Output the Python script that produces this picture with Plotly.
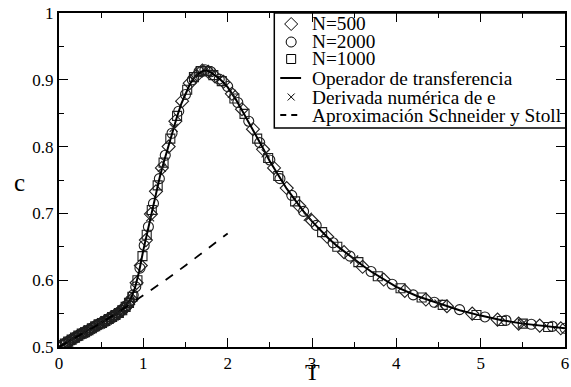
import plotly.graph_objects as go

# Transfer operator curve (T, c)
T_curve = [0.0, 0.1, 0.2, 0.3, 0.4, 0.5, 0.6, 0.7, 0.8, 0.85, 0.9, 0.95, 1.0, 1.05, 1.1, 1.15,
           1.2, 1.25, 1.3, 1.35, 1.4, 1.45, 1.5, 1.55, 1.6, 1.65, 1.7, 1.75, 1.8, 1.85, 1.9,
           1.95, 2.0, 2.1, 2.2, 2.3, 2.4, 2.5, 2.6, 2.7, 2.8, 2.9, 3.0, 3.1, 3.2, 3.3, 3.4,
           3.5, 3.6, 3.7, 3.8, 3.9, 4.0, 4.25, 4.5, 4.75, 5.0, 5.25, 5.5, 5.75, 6.0]
c_curve = [0.500, 0.508, 0.515, 0.522, 0.529, 0.536, 0.543, 0.551, 0.562, 0.572, 0.588, 0.613,
           0.645, 0.674, 0.703, 0.731, 0.757, 0.780, 0.802, 0.824, 0.845, 0.864, 0.880, 0.893,
           0.903, 0.909, 0.913, 0.914, 0.911, 0.907, 0.902, 0.896, 0.889, 0.870, 0.848, 0.825,
           0.802, 0.778, 0.757, 0.737, 0.720, 0.703, 0.688, 0.675, 0.662, 0.651, 0.641, 0.631,
           0.622, 0.613, 0.605, 0.597, 0.590, 0.576, 0.565, 0.555, 0.547, 0.540, 0.535, 0.531,
           0.528]

# Schneider & Stoll approximation
T_ss = [0.0, 0.25, 0.5, 0.75, 1.0, 1.25, 1.5, 1.75, 2.0]
c_ss = [0.500, 0.518, 0.536, 0.556, 0.577, 0.599, 0.622, 0.646, 0.670]

# N=500 (diamonds)
T_500 = [0.06, 0.10, 0.14, 0.18, 0.22, 0.26, 0.30, 0.34, 0.38, 0.42, 0.46, 0.50, 0.54, 0.58,
         0.62, 0.66, 0.70, 0.74, 0.78, 0.82, 0.86,
         0.92, 0.97, 1.03, 1.09, 1.15, 1.22, 1.30, 1.38, 1.46, 1.55, 1.63, 1.70, 1.77, 1.85,
         1.95, 2.05, 2.17, 2.30, 2.42, 2.55, 2.70, 2.85, 3.00, 3.18, 3.38, 3.60, 3.85, 4.10,
         4.35, 4.60, 4.90, 5.20, 5.45, 5.70, 5.95]
c_500 = [0.504, 0.507, 0.510, 0.513, 0.516, 0.519, 0.522, 0.524, 0.527, 0.530, 0.533, 0.536,
         0.538, 0.541, 0.544, 0.547, 0.550, 0.554, 0.558, 0.564, 0.571,
         0.596, 0.622, 0.660, 0.699, 0.733, 0.768, 0.800, 0.838, 0.868, 0.895, 0.906, 0.914,
         0.912, 0.905, 0.897, 0.879, 0.856, 0.826, 0.796, 0.768, 0.738, 0.711, 0.689, 0.665,
         0.642, 0.620, 0.601, 0.584, 0.571, 0.561, 0.550, 0.541, 0.535, 0.532, 0.528]

# N=2000 (circles)
T_2000 = [0.04, 0.08, 0.12, 0.16, 0.20, 0.24, 0.28, 0.32, 0.36, 0.40, 0.44, 0.48, 0.52, 0.56,
          0.60, 0.64, 0.68, 0.72, 0.76, 0.80, 0.84, 0.88,
          0.91, 0.96, 1.01, 1.06, 1.12, 1.19, 1.26, 1.34, 1.42, 1.50, 1.58, 1.66, 1.73, 1.80,
          1.90, 2.00, 2.12, 2.25, 2.38, 2.50, 2.62, 2.76, 2.90, 3.05, 3.25, 3.45, 3.70, 3.95,
          4.20, 4.45, 4.75, 5.05, 5.30, 5.60, 5.85, 6.00]
c_2000 = [0.503, 0.506, 0.509, 0.512, 0.515, 0.518, 0.521, 0.523, 0.526, 0.529, 0.532, 0.535,
          0.537, 0.540, 0.543, 0.546, 0.549, 0.553, 0.557, 0.562, 0.569, 0.578,
          0.590, 0.618, 0.652, 0.680, 0.715, 0.752, 0.787, 0.820, 0.853, 0.878, 0.900, 0.912,
          0.915, 0.912, 0.901, 0.890, 0.866, 0.838, 0.806, 0.780, 0.752, 0.727, 0.703, 0.682,
          0.656, 0.636, 0.613, 0.594, 0.578, 0.567, 0.556, 0.545, 0.540, 0.534, 0.531, 0.528]

# N=1000 (squares)
T_1000 = [0.07, 0.11, 0.15, 0.19, 0.23, 0.27, 0.31, 0.35, 0.39, 0.43, 0.47, 0.51, 0.55, 0.59,
          0.63, 0.67, 0.71, 0.75, 0.79, 0.83, 0.87,
          0.93, 0.99, 1.04, 1.10, 1.17, 1.24, 1.32, 1.40, 1.52, 1.60, 1.68, 1.76, 1.83, 1.93,
          2.08, 2.20, 2.35, 2.48, 2.60, 2.80, 3.12, 3.30, 3.55, 3.78, 4.05, 4.30, 4.55, 4.95,
          5.25, 5.50, 5.80]
c_1000 = [0.505, 0.508, 0.511, 0.514, 0.517, 0.520, 0.522, 0.525, 0.528, 0.531, 0.534, 0.536,
          0.539, 0.542, 0.545, 0.548, 0.551, 0.555, 0.560, 0.566, 0.575,
          0.600, 0.636, 0.668, 0.705, 0.742, 0.776, 0.812, 0.846, 0.885, 0.904, 0.913, 0.913,
          0.907, 0.898, 0.872, 0.849, 0.812, 0.783, 0.756, 0.718, 0.672, 0.650, 0.627, 0.606,
          0.588, 0.574, 0.563, 0.548, 0.539, 0.535, 0.530]

# Numerical derivative of e (crosses)
T_der = [0.05, 0.10, 0.15, 0.20, 0.25, 0.30, 0.35, 0.40, 0.45, 0.50, 0.55, 0.60, 0.65, 0.70,
         0.75, 0.80, 0.85, 1.08, 1.22, 1.36, 1.60, 2.05, 2.45, 2.95, 3.50, 4.50, 5.50]
c_der = [0.504, 0.508, 0.511, 0.515, 0.518, 0.522, 0.525, 0.529, 0.532, 0.536, 0.539, 0.543,
         0.547, 0.551, 0.556, 0.562, 0.570, 0.694, 0.768, 0.828, 0.903, 0.879, 0.790, 0.695,
         0.631, 0.565, 0.535]

legend_labels = ["N=500", "N=2000", "N=1000", "Operador de transferencia",
                 "Derivada numérica de e", "Aproximación Schneider y Stoll"]

FONT = "Liberation Serif"
mk_col = "#1e1e1e"

W, H = 571, 387
ML, MR, MT, MB = 59, 2, 13, 40
PW, PH = W - ML - MR, H - MT - MB


def fx(px):
    return (px - ML) / PW


def fy(py):
    return 1 - (py - MT) / PH


fig = go.Figure()
fig.add_trace(go.Scatter(x=T_500, y=c_500, mode="markers", name=legend_labels[0],
                         marker=dict(symbol="diamond-open", size=10, color=mk_col,
                                     line=dict(width=1.1, color=mk_col))))
fig.add_trace(go.Scatter(x=T_2000, y=c_2000, mode="markers", name=legend_labels[1],
                         marker=dict(symbol="circle-open", size=10, color=mk_col,
                                     line=dict(width=1.1, color=mk_col))))
fig.add_trace(go.Scatter(x=T_1000, y=c_1000, mode="markers", name=legend_labels[2],
                         marker=dict(symbol="square-open", size=9, color=mk_col,
                                     line=dict(width=1.1, color=mk_col))))
fig.add_trace(go.Scatter(x=T_curve, y=c_curve, mode="lines", name=legend_labels[3],
                         line=dict(color="black", width=2)))
fig.add_trace(go.Scatter(x=T_der, y=c_der, mode="markers", name=legend_labels[4],
                         marker=dict(symbol="x-thin-open", size=8, color=mk_col,
                                     line=dict(width=1.1, color=mk_col))))
fig.add_trace(go.Scatter(x=T_ss, y=c_ss, mode="lines", name=legend_labels[5],
                         line=dict(color="black", width=1.8, dash="dash")))

# ---- hand-built legend (compact rows like the original) ----
box_x0, box_x1, box_y0, box_y1 = 276, 570, 13, 128
row_y = [24, 42, 59, 78, 97, 115]
sym_x, txt_x = 293, 312

fig.add_shape(type="rect", xref="paper", yref="paper",
              x0=fx(box_x0), x1=fx(box_x1), y0=fy(box_y1), y1=fy(box_y0),
              line=dict(color="black", width=1.5), fillcolor="white", layer="below")

leg_syms = [("diamond-open", 10), ("circle-open", 10), ("square-open", 9),
            None, ("x-thin-open", 7), None]
for i, s in enumerate(leg_syms):
    if s is None:
        continue
    fig.add_trace(go.Scatter(x=[fx(sym_x)], y=[fy(row_y[i])], xaxis="x2", yaxis="y2",
                             mode="markers", showlegend=False, hoverinfo="skip",
                             cliponaxis=False,
                             marker=dict(symbol=s[0], size=s[1], color="black",
                                         line=dict(width=1, color="black"))))
fig.add_trace(go.Scatter(x=[fx(282), fx(303)], y=[fy(row_y[3])] * 2, xaxis="x2", yaxis="y2",
                         mode="lines", showlegend=False, hoverinfo="skip", cliponaxis=False,
                         line=dict(color="black", width=2)))
fig.add_trace(go.Scatter(x=[fx(282), fx(303)], y=[fy(row_y[5])] * 2, xaxis="x2", yaxis="y2",
                         mode="lines", showlegend=False, hoverinfo="skip", cliponaxis=False,
                         line=dict(color="black", width=1.8, dash="6px,5px")))

for i, lab in enumerate(legend_labels):
    fig.add_annotation(text=lab, xref="paper", yref="paper", x=fx(txt_x), y=fy(row_y[i]),
                       xanchor="left", yanchor="middle", showarrow=False,
                       font=dict(family=FONT, size=19.3, color="black"))

# axis titles
fig.add_annotation(text="T", xref="paper", yref="paper", x=fx(314), y=fy(387),
                   xanchor="center", yanchor="bottom", showarrow=False,
                   font=dict(family=FONT, size=24, color="black"))
fig.add_annotation(text="c", xref="paper", yref="paper", x=fx(19), y=fy(182),
                   xanchor="center", yanchor="middle", showarrow=False,
                   font=dict(family=FONT, size=25, color="black"))

axis_common = dict(showline=True, linewidth=2, linecolor="black", mirror="ticks",
                   ticks="inside", ticklen=9, tickwidth=1, tickcolor="black",
                   showgrid=False, zeroline=False, ticklabeloverflow="allow",
                   tickfont=dict(family=FONT, size=17, color="black"))

fig.update_xaxes(range=[0, 6], dtick=1, tick0=0,
                 minor=dict(dtick=0.5, ticks="inside", ticklen=5, tickcolor="black"),
                 **axis_common)
fig.update_yaxes(range=[0.5, 1.0], dtick=0.1, tick0=0.5,
                 minor=dict(dtick=0.05, ticks="inside", ticklen=5, tickcolor="black"),
                 **axis_common)

fig.update_layout(
    width=W, height=H,
    margin=dict(l=ML, r=MR, t=MT, b=MB),
    plot_bgcolor="white", paper_bgcolor="white",
    showlegend=False,
    xaxis2=dict(range=[0, 1], overlaying="x", visible=False, fixedrange=True),
    yaxis2=dict(range=[0, 1], overlaying="y", visible=False, fixedrange=True),
)

fig.write_html("out.html")
